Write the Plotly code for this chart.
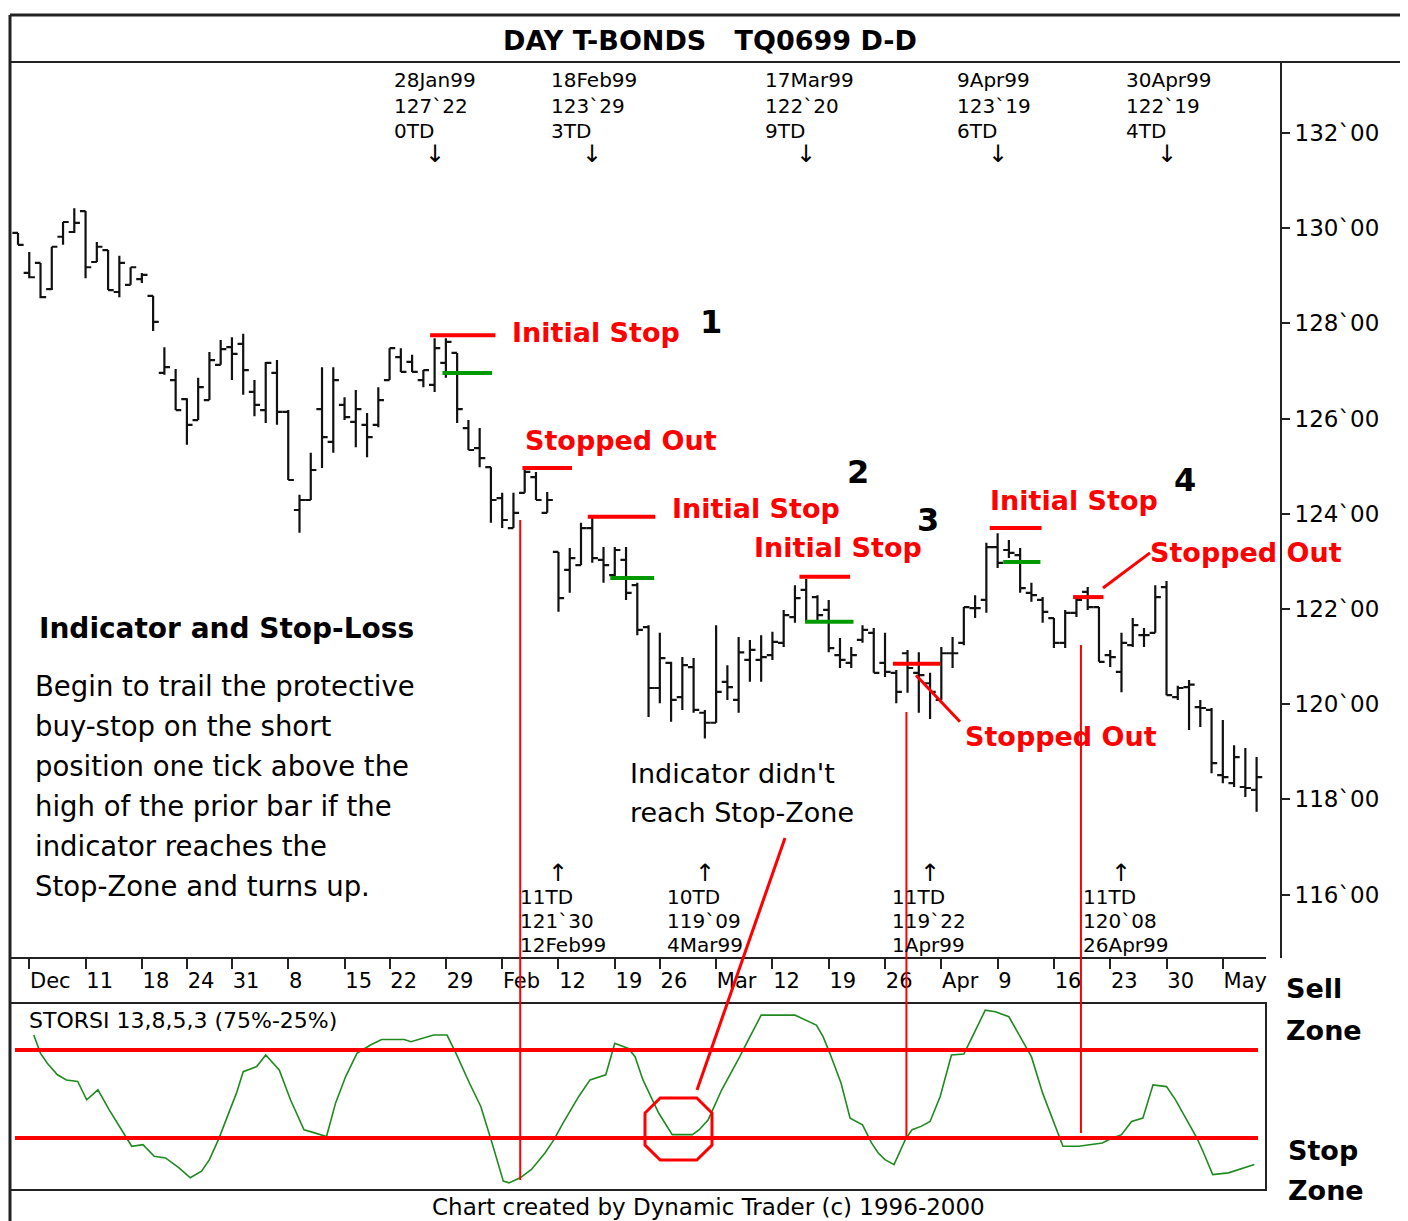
import plotly.graph_objects as go

# ---------------- data ----------------
bar_open = [129.90, 129.06, 129.27, 128.72, 129.82, 129.92, 130.36, 129.29, 129.54, 128.66,
            128.81, 128.93, 128.58, 126.96, 126.81, 126.41, 125.97, 126.39, 127.13, 127.50,
            127.57, 126.56, 126.18, 126.96, 126.14, 124.08, 124.29, 126.20, 125.51, 126.29,
            125.93, 125.87, 125.87, 126.81, 127.29, 127.19, 126.81, 126.71, 127.17, 127.38,
            125.80, 125.38, 124.98, 124.33, 123.70, 124.44, 124.77, 124.02, 123.20, 122.82,
            122.92, 123.70, 123.03, 122.71, 123.03, 122.50, 121.62, 120.34, 120.87, 120.15,
            120.78, 119.82, 119.61, 120.47, 120.09, 120.93, 120.93, 121.03, 121.29, 121.83,
            122.40, 122.25, 121.98, 121.03, 120.87, 121.35, 121.50, 120.87, 120.66, 121.07,
            120.66, 120.44, 120.09, 121.07, 121.29, 122.02, 122.19, 123.30, 123.24, 123.13,
            122.34, 122.19, 121.81, 121.29, 121.92, 122.36, 122.04, 121.03, 120.68, 121.24,
            121.45, 121.50, 122.46, 120.15, 120.36, 119.94, 119.88, 118.51, 118.34, 118.26,
            118.20]
bar_high = [129.90, 129.50, 129.27, 129.61, 130.13, 130.42, 130.36, 129.71, 129.54, 129.42,
            129.18, 129.06, 128.58, 127.50, 127.04, 126.43, 126.86, 127.40, 127.65, 127.71,
            127.78, 126.81, 127.19, 127.23, 126.18, 124.40, 125.28, 127.08, 127.08, 126.45,
            126.60, 126.12, 126.66, 127.48, 127.48, 127.34, 127.02, 127.69, 127.69, 127.38,
            125.97, 125.80, 124.98, 124.44, 124.44, 124.92, 124.88, 124.46, 123.20, 123.28,
            123.81, 123.91, 123.30, 123.30, 123.30, 122.55, 121.66, 121.50, 120.89, 120.99,
            120.97, 119.88, 121.66, 120.82, 121.41, 121.35, 121.45, 121.52, 121.98, 122.50,
            122.63, 122.29, 122.19, 121.39, 121.20, 121.66, 121.60, 121.50, 120.72, 121.14,
            121.09, 120.66, 121.20, 121.41, 122.04, 122.29, 123.39, 123.59, 123.45, 123.28,
            122.55, 122.25, 121.81, 121.98, 122.25, 122.46, 122.04, 121.14, 121.50, 121.81,
            121.60, 122.50, 122.59, 120.39, 120.51, 120.09, 119.92, 119.67, 119.14, 119.08,
            118.89]
bar_low = [129.65, 128.95, 128.53, 128.70, 129.65, 129.90, 128.95, 129.29, 128.70, 128.55,
           128.81, 128.85, 127.84, 126.92, 126.18, 125.45, 125.97, 126.39, 127.13, 126.81,
           126.50, 126.05, 125.91, 125.87, 124.71, 123.60, 124.29, 124.96, 125.28, 125.97,
           125.40, 125.19, 125.82, 126.81, 126.98, 126.98, 126.66, 126.56, 126.86, 125.91,
           125.34, 124.98, 123.81, 123.70, 123.70, 124.44, 124.29, 124.02, 121.94, 122.34,
           122.92, 122.97, 122.55, 122.61, 122.19, 121.45, 119.73, 120.02, 119.63, 119.88,
           119.82, 119.28, 119.61, 120.09, 119.82, 120.47, 120.47, 120.93, 121.20, 121.71,
           121.73, 121.71, 121.09, 120.76, 120.76, 121.29, 120.66, 120.57, 120.02, 120.24,
           119.82, 119.69, 120.09, 120.76, 121.24, 121.81, 121.92, 122.86, 123.07, 122.34,
           122.15, 121.71, 121.18, 121.18, 121.83, 121.98, 120.89, 120.78, 120.25, 121.20,
           121.20, 121.50, 120.19, 120.09, 119.46, 119.52, 118.55, 118.34, 118.26, 118.05,
           117.74]
bar_close = [129.65, 128.97, 128.55, 129.61, 130.13, 130.11, 129.18, 129.61, 128.70, 129.27,
             129.18, 129.02, 128.03, 127.08, 126.18, 125.87, 126.66, 127.23, 127.46, 127.36,
             127.02, 126.29, 127.17, 126.14, 124.71, 124.29, 124.92, 125.61, 126.81, 126.03,
             126.20, 125.61, 126.39, 127.48, 126.98, 126.98, 127.02, 127.48, 127.61, 126.20,
             125.34, 125.17, 124.29, 123.87, 124.02, 124.88, 124.29, 124.29, 122.23, 123.07,
             123.70, 123.07, 122.92, 123.24, 122.34, 121.56, 120.34, 120.97, 120.09, 120.82,
             119.88, 119.61, 120.26, 120.36, 121.09, 121.14, 120.99, 121.31, 121.87, 122.23,
             121.73, 121.87, 121.18, 120.93, 121.03, 121.56, 120.66, 120.68, 120.26, 120.76,
             120.61, 120.26, 121.07, 121.07, 122.04, 122.02, 123.30, 122.97, 123.18, 122.44,
             122.29, 121.94, 121.29, 121.92, 122.19, 122.04, 120.89, 120.99, 121.29, 121.66,
             121.45, 122.25, 120.19, 120.34, 120.41, 119.92, 118.76, 118.47, 118.89, 118.24,
             118.47]
bar_index = list(range(len(bar_open)))

date_tick_idx = [1, 6, 11, 15, 19, 24, 29, 33, 38, 43, 48, 53, 57, 62, 67, 72, 77, 82, 87, 92, 97, 102, 107]
date_tick_text = ["Dec", "11", "18", "24", "31", "8", "15", "22", "29", "Feb", "12", "19", "26",
                  "Mar", "12", "19", "26", "Apr", "9", "16", "23", "30", "May"]

price_ticks = [116, 118, 120, 122, 124, 126, 128, 130, 132]
price_tick_text = ["116`00", "118`00", "120`00", "122`00", "124`00", "126`00", "128`00", "130`00", "132`00"]

storsi_x = [1.4, 2.0, 2.6, 3.5, 4.3, 5.3, 6.1, 7.1, 8.1, 9.5, 10.1, 11.1, 12.1, 13.1, 14.3, 15.3, 16.3,
            17.0, 17.8, 18.6, 19.4, 20.0, 21.2, 22.0, 23.2, 24.2, 25.4, 26.2, 27.4, 28.2, 29.1, 30.1,
            31.3, 32.3, 34.3, 34.9, 35.9, 36.9, 38.1, 38.9, 40.1, 41.1, 42.1, 43.1, 43.6, 44.6, 45.6,
            46.8, 47.6, 48.4, 49.8, 50.8, 52.2, 53.0, 54.2, 54.8, 55.5, 56.9, 58.1, 59.9, 60.5, 61.3,
            62.5, 63.5, 64.1, 64.7, 66.0, 69.0, 69.9, 70.9, 71.5, 72.1, 73.1, 73.9, 75.0, 75.8, 76.4,
            77.0, 77.8, 78.8, 79.4, 80.2, 81.0, 81.9, 82.9, 84.0, 84.9, 85.9, 86.8, 88.0, 89.0, 90.0,
            91.0, 91.8, 92.8, 94.2, 96.3, 96.9, 98.0, 98.9, 99.9, 100.8, 102.0, 102.8, 103.6, 104.7,
            105.3, 106.1, 107.5, 108.5, 109.8]
storsi_v = [83.5, 73.1, 67.5, 60.9, 58.0, 57.1, 46.7, 52.4, 41.0, 26.9, 20.3, 21.2, 14.6, 13.7, 8.0, 2.4,
            6.1, 12.7, 24.1, 37.3, 50.5, 62.7, 65.6, 72.2, 63.7, 46.7, 29.7, 28.2, 25.9, 44.8, 59.9, 73.1,
            77.8, 81.0, 81.0, 79.7, 81.6, 83.5, 83.5, 73.1, 56.1, 42.9, 22.2, 0.5, -0.5, 2.4, 7.1, 16.5,
            24.1, 33.5, 48.6, 58.0, 60.9, 78.8, 75.9, 71.2, 58.0, 39.2, 26.9, 26.9, 29.7, 35.4, 52.4, 63.7,
            71.2, 78.8, 94.8, 94.8, 92.0, 89.2, 82.6, 73.1, 56.1, 36.3, 32.5, 22.2, 16.5, 12.7, 9.9, 24.1,
            29.7, 31.6, 34.4, 48.6, 72.2, 72.7, 84.4, 97.6, 96.7, 93.9, 82.6, 71.2, 50.5, 37.3, 20.3, 20.3,
            22.2, 24.1, 26.9, 34.4, 36.3, 55.2, 54.2, 46.7, 37.3, 25.0, 16.5, 4.2, 5.2, 7.1, 9.9]
zone_levels = [75, 25]

# swing-high annotations (top) and swing-low annotations (bottom)
top_idx = [37, 51, 70, 87, 102]
top_dates = ["28Jan99", "18Feb99", "17Mar99", "9Apr99", "30Apr99"]
top_prices = ["127`22", "123`29", "122`20", "123`19", "122`19"]
top_td = ["0TD", "3TD", "9TD", "6TD", "4TD"]
bot_idx = [48, 61, 81, 98]
bot_dates = ["12Feb99", "4Mar99", "1Apr99", "26Apr99"]
bot_prices = ["121`30", "119`09", "119`22", "120`08"]
bot_td = ["11TD", "10TD", "11TD", "11TD"]

# stops: (start idx, end idx, price)
red_stops = [(36.6, 42.4, 127.75), (44.8, 49.2, 124.96), (50.6, 56.6, 123.94), (69.4, 73.9, 122.68),
             (77.7, 81.9, 120.85), (86.3, 90.9, 123.70), (93.7, 96.4, 122.25)]
green_stops = [(37.7, 42.1, 126.96), (52.6, 56.5, 122.65), (69.9, 74.2, 121.73), (87.5, 90.8, 122.99)]
signal_idx = [44.6, 78.9, 94.4]

# ---------------- geometry ----------------
# the page body has an 8px margin, so the figure is placed at (8, 8) in the window
OFF = 8
W, H = 1400, 1213
def PX(x): return (x - OFF) / W
def PY(y): return 1 - (y - OFF) / H

BAR0, STEP = 18, 11.26
def I(xpx): return (xpx - BAR0) / STEP
PPX = 47.6  # px per point
price_rng = [132 - (958 - 133) / PPX, 132 + (133 - 62) / PPX]
OPX = 88 / 50  # px per osc unit
osc_rng = [25 - (1190 - 1138) / OPX, 75 + (1050 - 1003) / OPX]

FONT = "DejaVu Sans"
RED = "#ff0000"
GREEN = "#009a00"

fig = go.Figure()
fig.add_trace(go.Ohlc(
    x=bar_index, open=bar_open, high=bar_high, low=bar_low, close=bar_close,
    increasing=dict(line=dict(color="#111111", width=2.2)),
    decreasing=dict(line=dict(color="#111111", width=2.2)),
    tickwidth=0.5, xaxis="x", yaxis="y", hoverinfo="skip", showlegend=False))
fig.add_trace(go.Scatter(
    x=storsi_x, y=storsi_v, mode="lines", line=dict(color="#1f8a1f", width=1.6),
    xaxis="x2", yaxis="y2", showlegend=False, hoverinfo="skip"))

shapes = []
def pline(x0, y0, x1, y1, w=2, c="#222222"):
    shapes.append(dict(type="line", xref="paper", yref="paper", x0=PX(x0), y0=PY(y0),
                       x1=PX(x1), y1=PY(y1), line=dict(color=c, width=w)))
# frame
pline(10, 15, 1420, 15, 3)
pline(10, 15, 10, 1240, 3)
pline(10, 62, 1420, 62, 2)
pline(10, 958, 1266, 958, 2)
shapes.append(dict(type="rect", xref="paper", yref="paper", x0=PX(10), y0=PY(1190), x1=PX(1266),
                   y1=PY(1003), line=dict(color="#222222", width=2)))

for x0, x1, p in red_stops:
    shapes.append(dict(type="line", xref="x", yref="y", x0=x0, x1=x1, y0=p, y1=p,
                       line=dict(color=RED, width=4)))
for x0, x1, p in green_stops:
    shapes.append(dict(type="line", xref="x", yref="y", x0=x0, x1=x1, y0=p, y1=p,
                       line=dict(color=GREEN, width=4)))
# pointer lines for "Stopped Out"
shapes.append(dict(type="line", xref="x", yref="y", x0=I(916), y0=120.61, x1=I(960), y1=119.63,
                   line=dict(color=RED, width=3)))
shapes.append(dict(type="line", xref="x", yref="y", x0=I(1103), y0=122.44, x1=I(1150), y1=123.18,
                   line=dict(color=RED, width=3)))
# vertical signal lines spanning both panels
for xi, ytop, ybot in zip(signal_idx, [520, 712, 645], [1180, 1138, 1133]):
    shapes.append(dict(type="line", xref="x", yref="paper", x0=xi, x1=xi, y0=PY(ytop), y1=PY(ybot),
                       line=dict(color=RED, width=2)))
# zone lines
for lv in zone_levels:
    shapes.append(dict(type="line", xref="x2", yref="y2", x0=I(15), x1=I(1258), y0=lv, y1=lv,
                       line=dict(color=RED, width=4)))
# octagon around the non-signal dip
ox0, ox1, oy0, oy1 = I(645), I(712), 12.5, 47.7
cx, cy = 1.35, 8.5
path = (f"M {ox0+cx},{oy1} L {ox1-cx},{oy1} L {ox1},{oy1-cy} L {ox1},{oy0+cy} L {ox1-cx},{oy0} "
        f"L {ox0+cx},{oy0} L {ox0},{oy0+cy} L {ox0},{oy1-cy} Z")
shapes.append(dict(type="path", xref="x2", yref="y2", path=path, line=dict(color=RED, width=3)))
# pointer from text to octagon
pline(785, 838, 697, 1090, 3, RED)

ann = []
def text(s, x, y, size, anchor="left", bold=False, color="black", xref="paper", xshift=0):
    ann.append(dict(text=f"<b>{s}</b>" if bold else s, x=(PX(x) if xref == "paper" else x), y=PY(y),
                    xref=xref, yref="paper", xanchor=anchor, yanchor="middle", showarrow=False,
                    xshift=xshift, font=dict(family=FONT, size=size, color=color)))

text("DAY T-BONDS\u00a0\u00a0\u00a0TQ0699 D-D", 710, 40, 27, "center", True)

for s, x, y in [("Initial Stop", 510, 332), ("Stopped Out", 523, 440), ("Initial Stop", 670, 508),
                ("Initial Stop", 752, 547), ("Stopped Out", 963, 736), ("Initial Stop", 988, 500),
                ("Stopped Out", 1148, 552)]:
    text(s, x, y, 27, "left", True, RED)
for s, x, y in [("1", 711, 322), ("2", 858, 472), ("3", 928, 520), ("4", 1185, 480)]:
    text(s, x, y, 32, "center", True)

text("Indicator and Stop-Loss", 37, 628, 28, "left", True)
para = ["Begin to trail the protective", "buy-stop on the short", "position one tick above the",
        "high of the prior bar if the", "indicator reaches the", "Stop-Zone and turns up."]
for k, line in enumerate(para):
    text(line, 33, 686 + 40 * k, 27.5)
text("Indicator didn't", 628, 773, 27)
text("reach Stop-Zone", 628, 813, 27)

text("STORSI 13,8,5,3 (75%-25%)", 27, 1020, 22)
text("Chart created by Dynamic Trader (c) 1996-2000", 709, 1207, 23, "center")
text("Sell", 1284, 988, 27, "left", True)
text("Zone", 1284, 1030, 27, "left", True)
text("Stop", 1286, 1150, 27, "left", True)
text("Zone", 1286, 1190, 27, "left", True)

for i, d, p, t in zip(top_idx, top_dates, top_prices, top_td):
    text(d, i, 80, 20, "left", xref="x", xshift=-43)
    text(p, i, 106, 20, "left", xref="x", xshift=-43)
    text(t, i, 131, 20, "left", xref="x", xshift=-43)
    text("\u2193", i, 154, 24, "center", xref="x")
for i, d, p, t in zip(bot_idx, bot_dates, bot_prices, bot_td):
    text("\u2191", i, 873, 24, "center", xref="x")
    text(t, i, 897, 20, "left", xref="x", xshift=-40)
    text(p, i, 921, 20, "left", xref="x", xshift=-40)
    text(d, i, 945, 20, "left", xref="x", xshift=-40)

fig.update_layout(
    width=W, height=H, margin=dict(l=0, r=0, t=0, b=0),
    paper_bgcolor="white", plot_bgcolor="white", showlegend=False,
    font=dict(family=FONT, color="black"),
    xaxis=dict(domain=[PX(10), PX(1280)], range=[I(10), I(1280)], anchor="y",
               rangeslider=dict(visible=False), showgrid=False, zeroline=False, showline=False,
               tickmode="array", tickvals=date_tick_idx, ticktext=date_tick_text,
               ticks="outside", ticklen=10, tickwidth=1.5, tickcolor="#222222",
               ticklabelposition="outside right", ticklabelstandoff=4,
               tickfont=dict(size=21, family=FONT)),
    yaxis=dict(domain=[PY(958), PY(62)], range=price_rng, side="right", anchor="x",
               showgrid=False, zeroline=False, showline=True, linecolor="#222222", linewidth=2,
               tickmode="array", tickvals=price_ticks, ticktext=price_tick_text,
               ticks="outside", ticklen=8, tickwidth=1.5, tickcolor="#222222",
               ticklabelstandoff=0, tickfont=dict(size=23, family=FONT)),
    xaxis2=dict(domain=[PX(10), PX(1266)], range=[I(10), I(1266)], anchor="y2",
                showgrid=False, zeroline=False, showticklabels=False, ticks=""),
    yaxis2=dict(domain=[PY(1190), PY(1003)], range=osc_rng, anchor="x2",
                showgrid=False, zeroline=False, showticklabels=False, ticks=""),
    shapes=shapes, annotations=ann,
)

fig.write_html("out.html")
